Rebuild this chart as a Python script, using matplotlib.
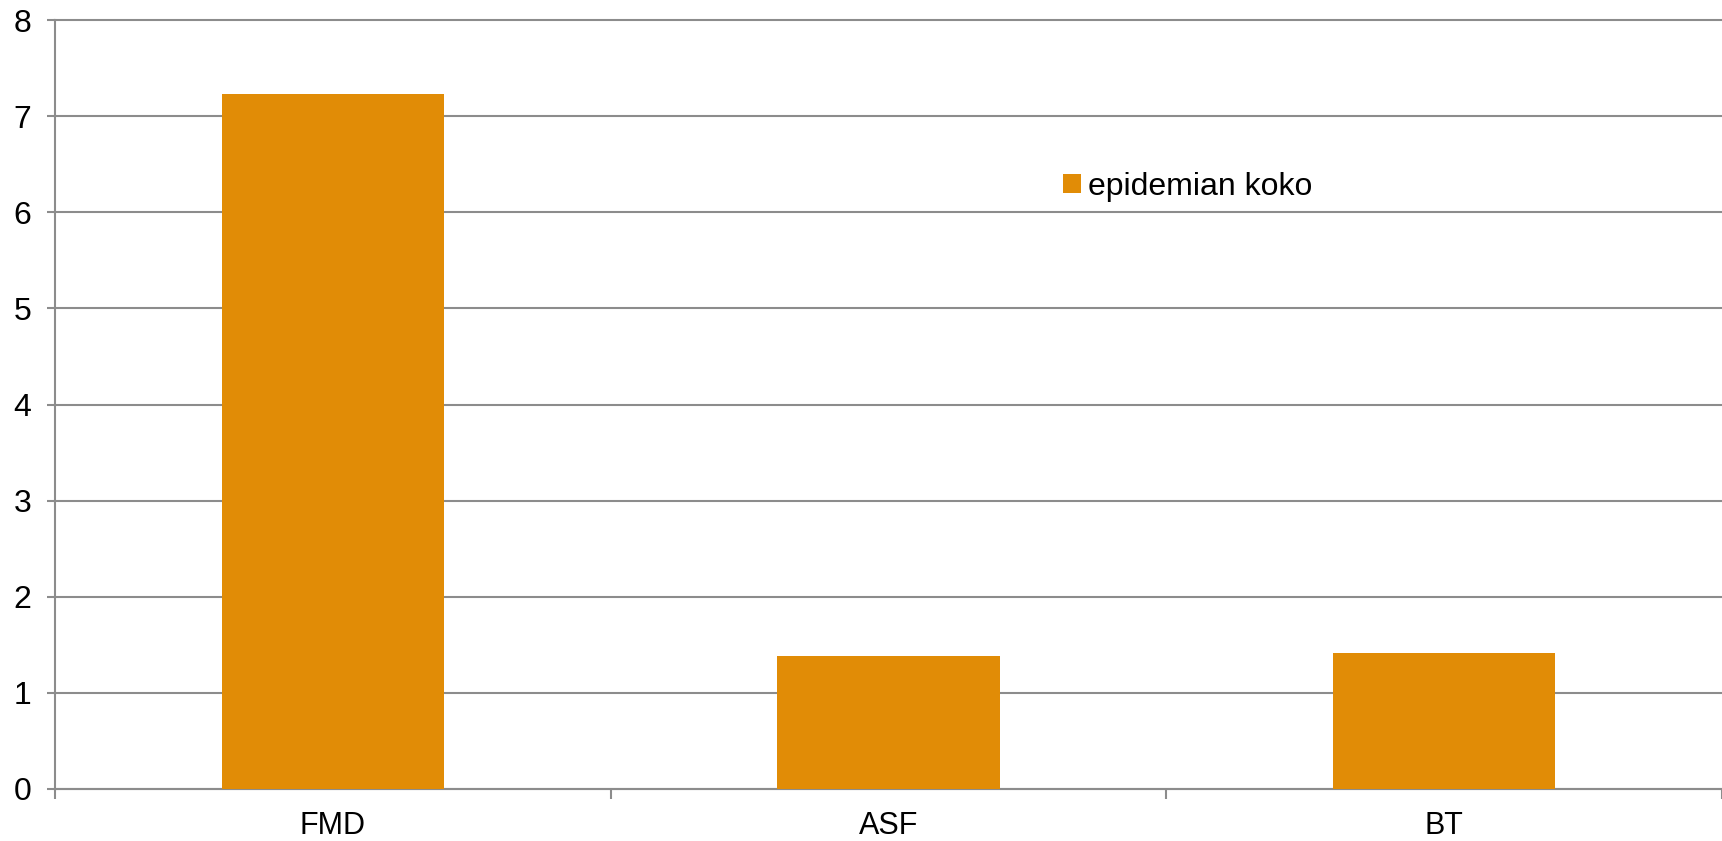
## IMPORT MODULES
import matplotlib.pyplot as plt
import numpy as np

## DATA
categories = ['FMD', 'ASF', 'BT']
values = [7.23, 1.38, 1.41]
series_name = 'epidemian koko'
y_ticks = [0, 1, 2, 3, 4, 5, 6, 7, 8]

plt.rcParams['font.family'] = ['Liberation Sans', 'DejaVu Sans']

## FIGURE
fig = plt.figure(figsize=(17.22, 8.41), dpi=100)
ax = fig.add_axes([55/1722, 52/841, 1 - 55/1722, 769/841])

x = np.arange(len(categories))
ax.bar(x, values, width=0.4, color='#E18C06', label=series_name, zorder=3)

ax.set_xlim(-0.5, len(categories) - 0.5)
ax.set_ylim(0, 8)
ax.set_yticks(y_ticks)
ax.set_yticklabels([str(t) for t in y_ticks], fontsize=23)
ax.set_xticks(x)
ax.set_xticklabels(categories, fontsize=22)
ax.set_xticks(np.arange(len(categories) + 1) - 0.5, minor=True)

grid_col = '#8c8c8c'
ax.yaxis.grid(True, color=grid_col, linewidth=1.5, zorder=1)
for gl in ax.get_ygridlines():
    gl.set_clip_on(False)
for s in ['top', 'right']:
    ax.spines[s].set_visible(False)
ax.spines['left'].set_color(grid_col)
ax.spines['bottom'].set_color(grid_col)
ax.spines['left'].set_linewidth(1.5)
ax.spines['bottom'].set_linewidth(1.5)
ax.tick_params(axis='y', length=6, width=1.5, color=grid_col, pad=11)
ax.tick_params(axis='x', which='major', length=0, pad=16)
ax.tick_params(axis='x', which='minor', length=7, width=1.5, color=grid_col)

## LEGEND
fig.legend(loc='center left', bbox_to_anchor=(1063/1722, (841 - 187)/841),
           frameon=False, fontsize=23, handlelength=0.55, handleheight=0.55,
           handletextpad=0.22, borderpad=0, borderaxespad=0)

plt.savefig('out.png', dpi=100)
